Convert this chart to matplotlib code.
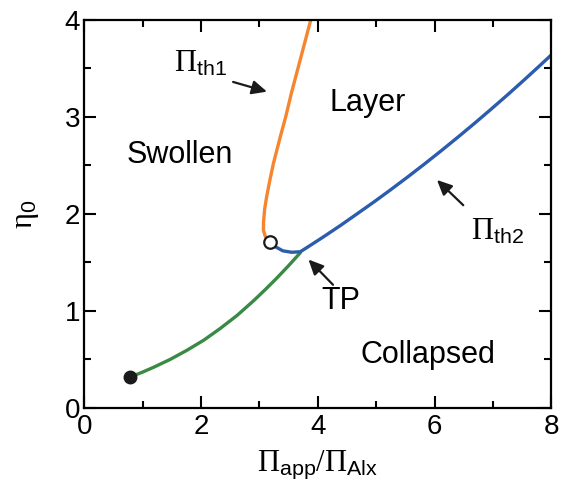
import numpy as np
from matplotlib import pyplot as plt

plt.rcParams['font.family'] = ['Liberation Sans', 'DejaVu Sans']
plt.rcParams['mathtext.fontset'] = 'custom'
plt.rcParams['mathtext.rm'] = 'Liberation Serif'
plt.rcParams['mathtext.it'] = 'Liberation Serif'
plt.rcParams['mathtext.sf'] = 'Liberation Sans'

# phase boundaries
th1_x = [3.18, 3.10, 3.07, 3.07, 3.09, 3.125, 3.18, 3.24, 3.30, 3.36, 3.45, 3.55, 3.66, 3.77, 3.88]
th1_y = [1.71, 1.77, 1.83, 1.91, 2.05, 2.18, 2.35, 2.52, 2.66, 2.80, 3.00, 3.25, 3.50, 3.75, 4.00]

th2_x = [3.18, 3.28, 3.40, 3.55, 3.70, 3.90, 4.10, 4.39, 4.67, 4.96, 5.24, 5.53, 5.81,
         6.10, 6.38, 6.67, 6.95, 7.24, 7.52, 7.76, 8.00]
th2_y = [1.71, 1.66, 1.62, 1.605, 1.61, 1.687, 1.765, 1.882, 2.00, 2.123, 2.246, 2.377, 2.507,
         2.645, 2.782, 2.927, 3.071, 3.223, 3.374, 3.506, 3.64]

low_x = [0.79, 1.00, 1.19, 1.47, 1.76, 2.05, 2.33, 2.62, 2.90, 3.10, 3.30, 3.50, 3.70]
low_y = [0.32, 0.37, 0.42, 0.50, 0.595, 0.70, 0.82, 0.955, 1.105, 1.22, 1.34, 1.467, 1.60]

crit_pt = (0.79, 0.32)   # filled dot
open_pt = (3.18, 1.71)   # open circle

fig = plt.figure(figsize=(5.61, 4.84), dpi=100)
ax = fig.add_axes([0.150, 0.157, 0.833, 0.802])

ax.plot(low_x, low_y, color='#3a8a45', lw=2.4, solid_capstyle='round', solid_joinstyle='round')
ax.plot(th2_x, th2_y, color='#2b5cae', lw=2.4, solid_capstyle='round', solid_joinstyle='round')
ax.plot(th1_x, th1_y, color='#f5852f', lw=2.4, solid_capstyle='round', solid_joinstyle='round')
ax.plot(*crit_pt, 'o', color='#1a1a1a', ms=9, zorder=5)
ax.plot(*open_pt, 'o', mfc='white', mec='#1a1a1a', mew=1.6, ms=9, zorder=5)

# region labels
ax.text(1.64, 2.61, 'Swollen', fontsize=22, ha='center', va='center')
ax.text(4.86, 3.14, 'Layer', fontsize=22, ha='center', va='center')
ax.text(5.89, 0.55, 'Collapsed', fontsize=22, ha='center', va='center')

arr = dict(arrowstyle='-|>,head_length=0.9,head_width=0.42', color='#1a1a1a', lw=1.6, shrinkA=0, shrinkB=0)
ax.text(2.00, 3.55, r'$\mathrm{\Pi}_{\mathsf{th1}}$', fontsize=22, ha='center', va='center')
ax.annotate('', xy=(3.13, 3.26), xytext=(2.55, 3.36), arrowprops=arr)
ax.annotate('', xy=(3.84, 1.53), xytext=(4.26, 1.27), arrowprops=arr)
ax.text(4.40, 1.10, 'TP', fontsize=22, ha='center', va='center')
ax.annotate('', xy=(6.04, 2.35), xytext=(6.49, 2.09), arrowprops=arr)
ax.text(7.08, 1.82, r'$\mathrm{\Pi}_{\mathsf{th2}}$', fontsize=22, ha='center', va='center')

ax.set_xlim(0, 8)
ax.set_ylim(0, 4)
ax.set_xticks([0, 2, 4, 6, 8])
ax.set_xticks([1, 3, 5, 7], minor=True)
ax.set_yticks([0, 1, 2, 3, 4])
ax.set_yticks(np.arange(0.5, 4, 1), minor=True)
ax.tick_params(which='both', direction='in', top=True, right=True, width=1.5, labelsize=20)
ax.tick_params(which='major', length=8.5)
ax.tick_params(which='minor', length=5)
ax.tick_params(axis='x', pad=4)
ax.tick_params(axis='y', pad=3)
for s in ax.spines.values():
    s.set_linewidth(1.6)

ax.set_xlabel(r'$\mathrm{\Pi}_{\mathsf{app}}/\mathrm{\Pi}_{\mathsf{Alx}}$', fontsize=22, labelpad=6)
ax.set_ylabel(r'$\mathrm{\eta}_{\mathsf{0}}$', fontsize=22, labelpad=17)

plt.savefig('out.png', dpi=100)
